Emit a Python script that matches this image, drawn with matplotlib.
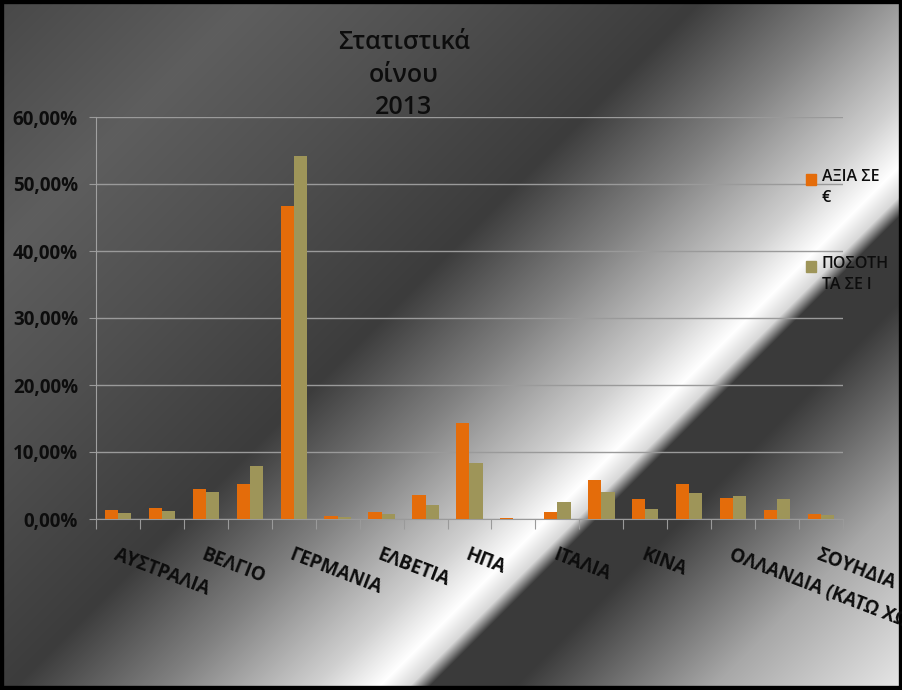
import matplotlib
matplotlib.use("Agg")
import matplotlib.pyplot as plt
from matplotlib.patches import Rectangle
import numpy as np

plt.rcParams['font.family'] = ['Open Sans', 'DejaVu Sans']

# data (shares in %)
countries = ["ΑΥΣΤΡΑΛΙΑ", "ΑΥΣΤΡΙΑ", "ΒΕΛΓΙΟ", "ΒΟΥΛΓΑΡΙΑ", "ΓΕΡΜΑΝΙΑ",
             "ΔΑΝΙΑ", "ΕΛΒΕΤΙΑ", "ΗΝΩΜΕΝΟ ΒΑΣΙΛΕΙΟ", "ΗΠΑ", "ΙΑΠΩΝΙΑ",
             "ΙΤΑΛΙΑ", "ΚΑΝΑΔΑΣ", "ΚΙΝΑ", "ΚΥΠΡΟΣ", "ΟΛΛΑΝΔΙΑ (ΚΑΤΩ ΧΩΡΕΣ)",
             "ΡΩΣΙΑ", "ΣΟΥΗΔΙΑ"]
value_eur = [1.39, 1.69, 4.42, 5.27, 46.7, 0.45, 1.09, 3.63, 14.3, 0.2,
             1.09, 5.82, 2.94, 5.17, 3.08, 1.29, 0.8]
quantity_l = [0.94, 1.24, 4.07, 7.96, 54.2, 0.35, 0.7, 2.13, 8.4, 0.05,
              2.59, 3.98, 1.44, 3.83, 3.48, 2.94, 0.6]
series_names = ["ΑΞΙΑ ΣΕ\n€", "ΠΟΣΟΤΗ\nΤΑ ΣΕ l"]
series_colors = ["#E46C0A", "#9E9559"]
y_ticks = [0, 10, 20, 30, 40, 50, 60]
y_labels = ["0,00%", "10,00%", "20,00%", "30,00%", "40,00%", "50,00%", "60,00%"]

W, H = 903, 690
fig = plt.figure(figsize=(W / 100, H / 100), dpi=100)

# chrome-like diagonal background
bg = fig.add_axes([0, 0, 1, 1], zorder=-10)
xx, yy = np.meshgrid(np.arange(W), np.arange(H))
t = xx + yy
stops_t = [0, 250, 450, 700, 850, 1000, 1065, 1095, 1115, 1200, 1400, 1593]
stops_v = [0x48, 0x5e, 0x50, 0x3c, 0x80, 0xd0, 0xff, 0xd8, 0x3a, 0x3a, 0xa8, 0xe8]
g = np.interp(t, stops_t, stops_v) / 255.0
bg.imshow(np.dstack([g, g, g]), extent=[0, W, H, 0], aspect='auto')
bg.set_xlim(0, W)
bg.set_ylim(H, 0)
bg.axis('off')
bg.add_patch(Rectangle((0, 0), W, H, fill=False, edgecolor='black', linewidth=6))

ax = fig.add_axes([96 / W, 1 - 519 / H, 747 / W, 402 / H])
ax.set_facecolor('none')

x = np.arange(len(countries))
bw = 0.3
ax.bar(x - bw / 2, value_eur, bw, color=series_colors[0], zorder=3)
ax.bar(x + bw / 2, quantity_l, bw, color=series_colors[1], zorder=3)

ax.set_xlim(-0.5, len(countries) - 0.5)
ax.set_ylim(0, 60)
ax.set_yticks(y_ticks, y_labels)
ax.yaxis.grid(True, color='#9a9a9a', linewidth=1)
ax.set_axisbelow(True)

# category boundaries as major ticks, every other name as label
ax.set_xticks(np.arange(len(countries) + 1) - 0.5, [])
ax.set_xticks(x[::2], countries[::2], minor=True)
ax.tick_params(axis='x', which='major', length=7, color='#9a9a9a', direction='out')
ax.tick_params(axis='x', which='minor', length=0, pad=19)
ax.tick_params(axis='y', length=5, color='#9a9a9a', pad=8)
plt.setp(ax.get_xticklabels(minor=True), rotation=-21, ha='left', va='top',
         rotation_mode='anchor', fontsize=13.5, fontweight='bold', color='#0d0d0d')
plt.setp(ax.get_yticklabels(), fontsize=13.5, fontweight='bold', color='#0d0d0d')

for side in ['top', 'right']:
    ax.spines[side].set_visible(False)
ax.spines['left'].set_color('#a0a0a0')
ax.spines['bottom'].set_color('#9a9a9a')

fig.text(404 / W, 1 - 75 / H, "Στατιστικά\nοίνου\n2013", ha='center', va='center',
         fontsize=18, fontweight='semibold', color='#0d0d0d', linespacing=1.42)

# legend
leg_y = [179, 266]
for name, col, yy0 in zip(series_names, series_colors, leg_y):
    fig.add_artist(Rectangle((806 / W, 1 - (yy0 + 6) / H), 10 / W, 11 / H,
                             transform=fig.transFigure, color=col))
    fig.text(822 / W, 1 - (yy0 - 10) / H, name, ha='left', va='top',
             fontsize=11.5, fontweight='semibold', color='#0d0d0d', linespacing=1.45)

plt.savefig('out.png', dpi=100)
